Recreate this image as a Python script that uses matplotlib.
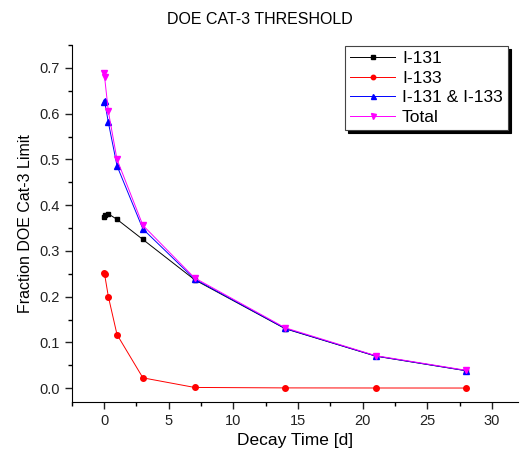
import matplotlib
matplotlib.use("Agg")
import matplotlib.pyplot as plt
from matplotlib.ticker import MultipleLocator

# decay time [d]
t = [0, 0.04, 0.33, 1, 3, 7, 14, 21, 28]

# fraction of DOE cat-3 limit
i131 = [0.375, 0.378, 0.381, 0.369, 0.325, 0.237, 0.130, 0.070, 0.038]
i133 = [0.251, 0.249, 0.200, 0.117, 0.0225, 0.0015, 0.0005, 0.0003, 0.0002]
i131_133 = [0.626, 0.627, 0.581, 0.486, 0.348, 0.2385, 0.1305, 0.0703, 0.0382]
total = [0.688, 0.680, 0.605, 0.500, 0.356, 0.241, 0.132, 0.071, 0.039]

plt.rcParams['font.family'] = ['Liberation Sans', 'DejaVu Sans']

fig = plt.figure(figsize=(5.2, 4.7), dpi=100)
ax = fig.add_axes([0.138, 0.145, 0.858, 0.759])

ax.plot(t, i131, color='black', marker='s', ms=3.5, lw=0.7, label='I-131')
ax.plot(t, i133, color='red', marker='o', ms=4, lw=0.7, label='I-133')
ax.plot(t, i131_133, color='blue', marker='^', ms=4.5, lw=0.7, label='I-131 & I-133')
ax.plot(t, total, color='magenta', marker='v', ms=4.5, lw=0.7, label='Total')

ax.set_xlim(-2.5, 32)
ax.set_ylim(-0.03, 0.75)
ax.xaxis.set_major_locator(MultipleLocator(5))
ax.xaxis.set_minor_locator(MultipleLocator(2.5))
ax.yaxis.set_major_locator(MultipleLocator(0.1))
ax.yaxis.set_minor_locator(MultipleLocator(0.05))
ax.yaxis.set_major_formatter(matplotlib.ticker.FormatStrFormatter('%.1f'))

ax.spines['top'].set_visible(False)
ax.spines['right'].set_visible(False)
ax.tick_params(which='major', direction='out', length=5, width=1, labelsize=10.5, colors='#222222')
ax.tick_params(which='minor', direction='out', length=3, width=1)

ax.set_xlabel('Decay Time [d]', fontsize=12.5, labelpad=4)
ax.set_ylabel('Fraction DOE Cat-3 Limit', fontsize=11.5, labelpad=5)
fig.suptitle('DOE CAT-3 THRESHOLD', fontsize=11.5, x=0.5, y=0.975)

leg = ax.legend(loc='upper right', bbox_to_anchor=(508 / 520, 1 - 46 / 470),
                bbox_transform=fig.transFigure, fontsize=12.5, frameon=True,
                fancybox=False, shadow={'color': 'black', 'alpha': 1},
                handlelength=2.6, handletextpad=0.4, borderpad=0.3,
                labelspacing=0.25, borderaxespad=0, markerscale=0.8)
leg.get_frame().set_edgecolor('#444444')
leg.get_frame().set_linewidth(0.8)

fig.savefig('out.png', dpi=100)
